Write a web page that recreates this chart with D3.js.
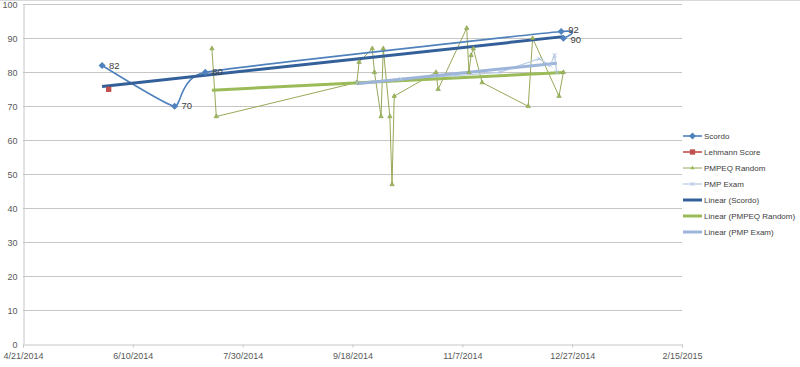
<!DOCTYPE html>
<html><head><meta charset="utf-8">
<script src="https://cdn.jsdelivr.net/npm/d3@7"></script>
<style>body{margin:0;background:#fff}svg{display:block}text{font-family:"Liberation Sans",Arial,sans-serif}</style>
</head><body><svg id="c" width="800" height="367"></svg>
<script>
// ---- data ----
const xTickLabels = ["4/21/2014","6/10/2014","7/30/2014","9/18/2014","11/7/2014","12/27/2014","2/15/2015"];
const yTicks = [0,10,20,30,40,50,60,70,80,90,100];
const scordoDates = ["2014-05-27","2014-06-29","2014-07-13","2014-12-22","2014-12-23"];
const scordoValues = [82,70,80,92,90];
const lehmannDates = ["2014-05-30"];
const lehmannValues = [75];
const pmpeqDates = ["2014-07-16","2014-07-18","2014-09-20","2014-09-21","2014-09-27","2014-09-28","2014-10-01","2014-10-02","2014-10-05","2014-10-06","2014-10-07","2014-10-26","2014-10-27","2014-11-09","2014-11-10","2014-11-11","2014-11-12","2014-11-16","2014-12-07","2014-12-09","2014-12-21","2014-12-23"];
const pmpeqValues = [87,67,77,83,87,80,67,87,67,47,73,80,75,93,80,85,87,77,70,90,73,80];
const pmpDates = ["2014-09-20","2014-10-10","2014-11-04","2014-11-24","2014-12-12","2014-12-17","2014-12-19","2014-12-20"];
const pmpValues = [77,78,79,80,84,82,85,80];
const legendLabels = ["Scordo","Lehmann Score","PMPEQ Random","PMP Exam","Linear (Scordo)","Linear (PMPEQ Random)","Linear (PMP Exam)"];

const parse = d3.utcParse("%m/%d/%Y");
const pd = d3.utcParse("%Y-%m-%d");
const svg = d3.select("#c");
const tickDates = xTickLabels.map(parse);
const x = d3.scaleUtc().domain([tickDates[0], tickDates[tickDates.length-1]]).range([23, 682]);
const y = d3.scaleLinear().domain([0,100]).range([344.3, 4.3]);

const mk = (ds, vs) => ds.map((d,i)=>({d:pd(d), v:vs[i]}));
const scordo = mk(scordoDates, scordoValues);
const lehmann = mk(lehmannDates, lehmannValues);
const pmpeq = mk(pmpeqDates, pmpeqValues);
const pmp = mk(pmpDates, pmpValues);

const C = {scordo:"#4F81BD", lehmann:"#C0504D", pmpeq:"#9BBB59", pmpLine:"#BCCDE6", trS:"#34609A", trP:"#9BBB59", trX:"#9DB5DA"};

// top border
svg.append("line").attr("x1",0).attr("x2",800).attr("y1",0.5).attr("y2",0.5).attr("stroke","#d9d9d9");

// grid
svg.append("g").selectAll("line").data(yTicks.filter(t=>t>0)).join("line")
  .attr("x1",23).attr("x2",682).attr("y1",d=>Math.round(y(d))+0.5).attr("y2",d=>Math.round(y(d))+0.5)
  .attr("stroke","#c6c6c6").attr("stroke-width",1);

// y axis
const ya = svg.append("g").attr("transform","translate(23.5,0)").call(d3.axisLeft(y).tickValues(yTicks).tickSize(0).tickPadding(6));
ya.select(".domain").attr("stroke","#c6c6c6");
ya.selectAll("text").attr("fill","#595959").style("font-size","9px").style("font-family","Liberation Sans, Arial, sans-serif");

// x axis
const xa = svg.append("g").attr("transform",`translate(0,${Math.round(y(0))+0.5})`)
  .call(d3.axisBottom(x).tickValues(tickDates).tickFormat(d3.utcFormat("%-m/%-d/%Y")).tickSize(3).tickPadding(5));
xa.select(".domain").attr("stroke","#c6c6c6");
xa.selectAll(".tick line").attr("stroke","#c6c6c6");
xa.selectAll("text").attr("fill","#595959").style("font-size","9px").style("font-family","Liberation Sans, Arial, sans-serif");

const line = d3.line().x(p=>x(p.d)).y(p=>y(p.v));
const smooth = d3.line().x(p=>x(p.d)).y(p=>y(p.v)).curve(d3.curveCardinal.tension(0.6));

// series lines
svg.append("path").attr("d",line(pmpeq)).attr("fill","none").attr("stroke","#97A85A").attr("stroke-width",1);
svg.append("path").attr("d",line(pmp)).attr("fill","none").attr("stroke",C.pmpLine).attr("stroke-width",1.3);
svg.append("path").attr("d",smooth(scordo)).attr("fill","none").attr("stroke",C.scordo).attr("stroke-width",1.6);

// trend lines
function trend(data){
  const xs = data.map(p=>+p.d), ys = data.map(p=>p.v);
  const mx = d3.mean(xs), my = d3.mean(ys);
  const b = d3.sum(xs.map((v,i)=>(v-mx)*(ys[i]-my))) / d3.sum(xs.map(v=>(v-mx)*(v-mx)));
  const a = my - b*mx;
  const x0 = d3.min(xs), x1 = d3.max(xs);
  return [{d:new Date(x0), v:a+b*x0},{d:new Date(x1), v:a+b*x1}];
}
svg.append("path").attr("d",line(trend(pmpeq))).attr("fill","none").attr("stroke",C.trP).attr("stroke-width",3);
svg.append("path").attr("d",line(trend(pmp))).attr("fill","none").attr("stroke",C.trX).attr("stroke-width",3);
svg.append("path").attr("d",line(trend(scordo))).attr("fill","none").attr("stroke",C.trS).attr("stroke-width",3);

// markers
const diamond = d3.symbol().type(d3.symbolDiamond2).size(32);
const square = d3.symbol().type(d3.symbolSquare2).size(36);
const tri = d3.symbol().type(d3.symbolTriangle2).size(14);
const cross = d3.symbol().type(d3.symbolX).size(12);
svg.append("g").selectAll("path").data(pmpeq).join("path").attr("d",tri)
  .attr("transform",p=>`translate(${x(p.d)},${y(p.v)})`).attr("fill","#9BBB59").attr("stroke","#8A9B50").attr("stroke-width",0.6);
svg.append("g").selectAll("path").data(pmp).join("path").attr("d",cross)
  .attr("transform",p=>`translate(${x(p.d)},${y(p.v)})`).attr("fill","none").attr("stroke","#AFC4E2").attr("stroke-width",1);
svg.append("g").selectAll("path").data(scordo).join("path").attr("d",diamond)
  .attr("transform",p=>`translate(${x(p.d)},${y(p.v)})`).attr("fill",C.scordo);
svg.append("g").selectAll("path").data(lehmann).join("path").attr("d",square)
  .attr("transform",p=>`translate(${x(p.d)},${y(p.v)})`).attr("fill",C.lehmann);

// data labels for Scordo
svg.append("g").selectAll("text").data(scordo).join("text")
  .attr("x",p=>x(p.d)+7).attr("y",(p,i)=>y(p.v)+ (i===3?1.5:(i===4?5:3)))
  .attr("font-size","9.5px").attr("fill","#404040").text(p=>p.v);

// legend
const lg = svg.append("g");
const rows = [
  {c:C.scordo, w:1.6, m:diamond, mf:C.scordo},
  {c:C.lehmann, w:1.6, m:square, mf:C.lehmann},
  {c:"#97A85A", w:1, m:tri, mf:"#9BBB59"},
  {c:C.pmpLine, w:1.3, m:cross, ms:"#AFC4E2"},
  {c:C.trS, w:3},
  {c:C.trP, w:3},
  {c:C.trX, w:3}
];
rows.forEach((r,i)=>{
  const yy = 136 + i*16;
  lg.append("line").attr("x1",683).attr("x2",702).attr("y1",yy).attr("y2",yy).attr("stroke",r.c).attr("stroke-width",r.w);
  if (r.m) {
    const p = lg.append("path").attr("d",r.m).attr("transform",`translate(692.5,${yy})`);
    if (r.mf) p.attr("fill",r.mf); else p.attr("fill","none").attr("stroke",r.ms);
  }
  lg.append("text").attr("x",704).attr("y",yy+3).attr("font-size","8px").attr("fill","#404040").text(legendLabels[i]);
});
</script></body></html>
